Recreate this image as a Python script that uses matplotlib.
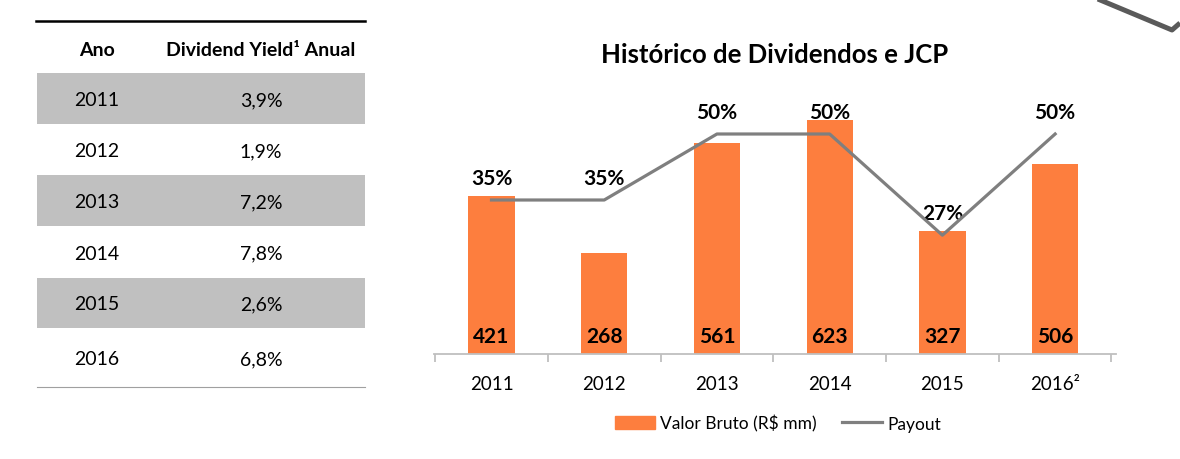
import matplotlib.pyplot as plt
from matplotlib.lines import Line2D
from matplotlib.patches import Patch, Rectangle

plt.rcParams['font.family'] = ['Lato', 'DejaVu Sans']

# table data
anos = ['2011', '2012', '2013', '2014', '2015', '2016']
dy_anual = ['3,9%', '1,9%', '7,2%', '7,8%', '2,6%', '6,8%']

# chart data
categorias = ['2011', '2012', '2013', '2014', '2015', '2016²']
valor_bruto = [421, 268, 561, 623, 327, 506]
payout = [35, 35, 50, 50, 27, 50]

laranja = '#FD7E3E'
cinza = '#7F7F7F'

W, H = 1180, 460
fig = plt.figure(figsize=(W / 100, H / 100), dpi=100)

# --- table on the left, drawn in pixel coordinates ---
tab = fig.add_axes([0, 0, 1, 1])
tab.set_xlim(0, W)
tab.set_ylim(H, 0)
tab.axis('off')

x0, x1 = 37, 365
tab.plot([x0 - 1, x1], [22, 22], color='black', lw=1.8)
tab.text(97, 50, 'Ano', ha='center', va='center', fontsize=14, fontweight='bold')
tab.text(261, 50, 'Dividend Yield¹ Anual', ha='center', va='center',
         fontsize=14, fontweight='bold')

row_top = [73, 126, 175, 228, 278, 330]
row_bot = [126, 175, 228, 278, 330, 388]
for i, (ano, dy) in enumerate(zip(anos, dy_anual)):
    if i % 2 == 0:
        tab.add_patch(Rectangle((x0, row_top[i] + 1), x1 - x0, row_bot[i] - row_top[i] - 2,
                                color='#C0C0C0', lw=0))
    yc = (row_top[i] + row_bot[i]) / 2 + 1
    tab.text(97, yc, ano, ha='center', va='center', fontsize=14)
    tab.text(261, yc, dy, ha='center', va='center', fontsize=14)
tab.plot([x0, x1], [388, 388], color='#A0A0A0', lw=0.8)

# decoration in the top-right corner
tab.plot([1093, 1172, 1180], [-2, 31, 24], color='#5A5A5A', lw=3.6, solid_capstyle='butt')

# --- bar + line chart ---
left, right, base, top = 434, 1116, 355, 100
ax = fig.add_axes([left / W, (H - base) / H, (right - left) / W, (base - top) / H])
ax2 = ax.twinx()

xs = range(len(categorias))
ax.bar(xs, valor_bruto, width=0.41, color=laranja, zorder=2)
ax.set_ylim(0, (base - top) / 0.376)
ax.set_xlim(-0.51, 5.54)
for x, v in zip(xs, valor_bruto):
    ax.annotate(str(v), (x, 0), xytext=(0, 13), textcoords='offset points',
                ha='center', va='center', fontsize=15, fontweight='bold', zorder=3)

ax2.plot(xs, payout, color=cinza, lw=2.3, zorder=4)
ax2.set_ylim(0, (base - top) / 4.4)
for x, p in zip(xs, payout):
    ax2.annotate(f'{p}%', (x, p), xytext=(0, 16), textcoords='offset points',
                 ha='center', va='center', fontsize=15, fontweight='bold')

for a in (ax, ax2):
    for s in ('top', 'right', 'left'):
        a.spines[s].set_visible(False)
    a.set_yticks([])
ax2.spines['bottom'].set_visible(False)
ax.spines['bottom'].set_color('#BFBFBF')
ax.spines['bottom'].set_linewidth(1.3)
ax.set_xticks(list(xs))
ax.set_xticklabels(categorias, fontsize=13.5)
ax.tick_params(axis='x', which='major', length=0, pad=15)
ax.set_xticks([i - 0.5 for i in range(len(categorias) + 1)], minor=True)
ax.tick_params(axis='x', which='minor', length=6, width=1.3, color='#BFBFBF')

fig.text(775 / W, (H - 55) / H, 'Histórico de Dividendos e JCP', ha='center', va='center',
         fontsize=18.5, fontweight='bold')

handles = [Patch(color=laranja), Line2D([], [], color=cinza, lw=2.3)]
fig.legend(handles, ['Valor Bruto (R$ mm)', 'Payout'], loc='center',
           bbox_to_anchor=(778 / W, (H - 424) / H), ncol=2, frameon=False,
           fontsize=12.5, handlelength=2.3, handletextpad=0.3, columnspacing=1.5)

fig.savefig('out.png', dpi=100)
